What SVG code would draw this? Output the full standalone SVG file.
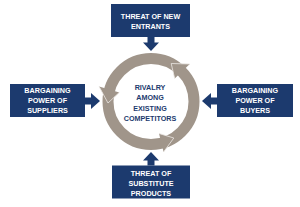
<svg xmlns="http://www.w3.org/2000/svg" width="300" height="207" viewBox="0 0 300 207">
<style>
.box{fill:#1C3A6E}
.bt{fill:#ffffff;font-family:"Liberation Sans",Arial,sans-serif;font-weight:bold;font-size:7.2px;text-anchor:middle}
.ct{fill:#1C3A6E;font-family:"Liberation Sans",Arial,sans-serif;font-weight:bold;font-size:7.2px;text-anchor:middle}
.ba{fill:#1C3A6E}
.ring{fill:none;stroke:#A0958A;stroke-width:11}
.head{fill:#A0958A}
.edge{fill:none;stroke:#ECE8E4;stroke-width:0.8}
</style>
<rect width="300" height="207" fill="#ffffff"/>
<g id="rivalry">
<circle class="ring" cx="151" cy="101.5" r="43"/>
<polygon class="head" points="189.8,64 171.2,63.5 174.7,78.6"/>
<path class="edge" d="M189.8,64 L171.2,63.5 L174.7,78.6"/>
<polygon class="head" points="99.1,86.6 108,103 119.3,92.4"/>
<path class="edge" d="M99.1,86.6 L108,103 L119.3,92.4"/>
<polygon class="head" points="163.6,152 173.8,138 159,133.5"/>
<path class="edge" d="M163.6,152 L173.8,138 L159,133.5"/>
<text class="ct" x="150" y="89.5">RIVALRY</text>
<text class="ct" x="150" y="100">AMONG</text>
<text class="ct" x="150" y="110.5">EXISTING</text>
<text class="ct" x="150" y="121">COMPETITORS</text>
</g>
<g id="new-entrants">
<rect class="box" x="111" y="4" width="79" height="33"/>
<text class="bt" x="150.5" y="19.3">THREAT OF NEW</text>
<text class="bt" x="150.5" y="29.3">ENTRANTS</text>
</g>
<g id="suppliers">
<rect class="box" x="10" y="84" width="75" height="33"/>
<text class="bt" x="47.5" y="93.3">BARGAINING</text>
<text class="bt" x="47.5" y="103.3">POWER OF</text>
<text class="bt" x="47.5" y="113.3">SUPPLIERS</text>
</g>
<g id="buyers">
<rect class="box" x="217" y="84" width="76" height="33"/>
<text class="bt" x="255" y="93.3">BARGAINING</text>
<text class="bt" x="255" y="103.3">POWER OF</text>
<text class="bt" x="255" y="113.3">BUYERS</text>
</g>
<g id="substitutes">
<rect class="box" x="112" y="165.5" width="78" height="33"/>
<text class="bt" x="151" y="176">THREAT OF</text>
<text class="bt" x="151" y="186">SUBSTITUTE</text>
<text class="bt" x="151" y="196">PRODUCTS</text>
</g>
<g id="connectors">
<path class="ba" d="M147.5,37 L154.5,37 L154.5,42.5 L159,42.5 L151,51 L143,42.5 L147.5,42.5 Z"/>
<path class="ba" d="M85,97.5 L91,97.5 L91,93 L100,101 L91,109 L91,104.5 L85,104.5 Z"/>
<path class="ba" d="M217,97.5 L211,97.5 L211,93 L202,101 L211,109 L211,104.5 L217,104.5 Z"/>
<path class="ba" d="M147.5,165.5 L154.5,165.5 L154.5,160.5 L159,160.5 L151,152 L143,160.5 L147.5,160.5 Z"/>
</g>
</svg>
